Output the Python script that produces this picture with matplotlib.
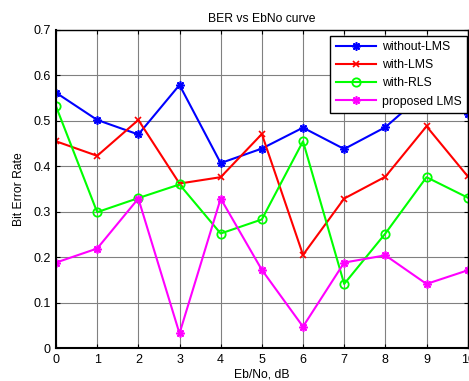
import numpy as np
import matplotlib
matplotlib.use("Agg")
import matplotlib.pyplot as plt

plt.rcParams['font.family'] = ['Liberation Sans', 'DejaVu Sans']

# Eb/No values (dB)
ebno = [0, 1, 2, 3, 4, 5, 6, 7, 8, 9, 10]

# BER
ber_without_lms = [0.562, 0.502, 0.470, 0.579, 0.407, 0.439, 0.485, 0.438, 0.486, 0.565, 0.516]
ber_with_lms = [0.455, 0.423, 0.502, 0.362, 0.376, 0.471, 0.205, 0.329, 0.377, 0.488, 0.378]
ber_with_rls = [0.532, 0.299, 0.330, 0.360, 0.252, 0.283, 0.455, 0.141, 0.252, 0.376, 0.331]
ber_proposed = [0.188, 0.219, 0.329, 0.032, 0.329, 0.172, 0.047, 0.188, 0.204, 0.141, 0.171]

x_ticks = [0, 1, 2, 3, 4, 5, 6, 7, 8, 9, 10]
y_ticks = [0, 0.1, 0.2, 0.3, 0.4, 0.5, 0.6, 0.7]

fig = plt.figure(figsize=(4.69, 3.81), dpi=100)
ax = fig.add_axes([0.1194, 0.0866, 0.8778, 0.8347])

asterisk = (8, 2, 0)
ax.plot(ebno, ber_without_lms, color='#0000ff', lw=1.5, marker=asterisk, ms=6, mew=1.2, label='without-LMS')
ax.plot(ebno, ber_with_lms, color='#ff0000', lw=1.5, marker='x', ms=4, mew=1.2, label='with-LMS')
ax.plot(ebno, ber_with_rls, color='#00ff00', lw=1.5, marker='o', ms=6, mew=1.3, mfc='none', label='with-RLS')
ax.plot(ebno, ber_proposed, color='#ff00ff', lw=1.5, marker=asterisk, ms=6, mew=1.2, label='proposed LMS')

ax.set_xlim(0, 10)
ax.set_ylim(0, 0.7)
ax.set_xticks(x_ticks)
ax.set_yticks(y_ticks)
ax.set_yticklabels(['0', '0.1', '0.2', '0.3', '0.4', '0.5', '0.6', '0.7'])
ax.grid(True, color='#808080', lw=0.8)
ax.tick_params(direction='in', top=True, right=True, labelsize=9, length=3, pad=4)

for s in ['left', 'bottom']:
    ax.spines[s].set_linewidth(1.5)
for s in ['top', 'right']:
    ax.spines[s].set_linewidth(1.0)

ax.set_title('BER vs EbNo curve', fontsize=8.7, pad=6)
ax.set_xlabel('Eb/No, dB', fontsize=8.7, labelpad=2)
ax.set_ylabel('Bit Error Rate', fontsize=8.7, labelpad=6)

leg = ax.legend(loc='upper right', bbox_to_anchor=(0.998, 0.982), borderaxespad=0,
                fontsize=8.8, fancybox=False, framealpha=1, edgecolor='black',
                handlelength=3.3, handletextpad=0.45, labelspacing=0.5, borderpad=0.45)
leg.get_frame().set_linewidth(1.0)

fig.savefig('out.png', dpi=100)
